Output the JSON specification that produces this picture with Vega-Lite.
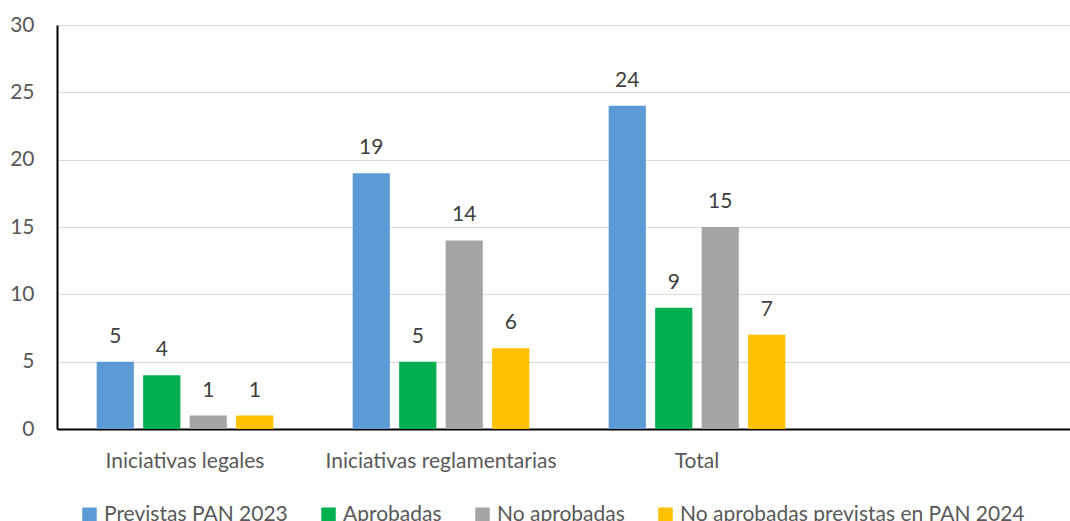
{
  "$schema": "https://vega.github.io/schema/vega-lite/v6.json",
  "autosize": {"type": "none"},
  "width": 1013,
  "height": 404,
  "padding": {"left": 57, "top": 25, "right": 0, "bottom": 92},
  "background": "white",
  "config": {
    "font": "Lato",
    "view": {"stroke": null}
  },
  "data": {
    "values": [
      {"categoria": "Iniciativas legales", "serie": "Previstas PAN 2023", "valor": 5},
      {"categoria": "Iniciativas legales", "serie": "Aprobadas", "valor": 4},
      {"categoria": "Iniciativas legales", "serie": "No aprobadas", "valor": 1},
      {"categoria": "Iniciativas legales", "serie": "No aprobadas previstas en PAN 2024", "valor": 1},
      {"categoria": "Iniciativas reglamentarias", "serie": "Previstas PAN 2023", "valor": 19},
      {"categoria": "Iniciativas reglamentarias", "serie": "Aprobadas", "valor": 5},
      {"categoria": "Iniciativas reglamentarias", "serie": "No aprobadas", "valor": 14},
      {"categoria": "Iniciativas reglamentarias", "serie": "No aprobadas previstas en PAN 2024", "valor": 6},
      {"categoria": "Total", "serie": "Previstas PAN 2023", "valor": 24},
      {"categoria": "Total", "serie": "Aprobadas", "valor": 9},
      {"categoria": "Total", "serie": "No aprobadas", "valor": 15},
      {"categoria": "Total", "serie": "No aprobadas previstas en PAN 2024", "valor": 7}
    ]
  },
  "encoding": {
    "x": {
      "field": "categoria",
      "type": "nominal",
      "scale": {
        "domain": ["Iniciativas legales", "Iniciativas reglamentarias", "Total", " "],
        "range": [0, 1024],
        "paddingInner": 0.31,
        "paddingOuter": 0.155
      },
      "axis": {
        "title": null,
        "labelAngle": 0,
        "labelFontSize": 21,
        "labelColor": "#595959",
        "labelPadding": 21,
        "labelLimit": 400,
        "ticks": false,
        "domainColor": "#000000",
        "domainWidth": 2,
        "grid": false
      }
    },
    "xOffset": {
      "field": "serie",
      "type": "nominal",
      "scale": {
        "domain": ["Previstas PAN 2023", "Aprobadas", "No aprobadas", "No aprobadas previstas en PAN 2024"],
        "paddingInner": 0.2,
        "paddingOuter": 0
      }
    },
    "y": {
      "field": "valor",
      "type": "quantitative",
      "scale": {"domain": [0, 30], "nice": false},
      "axis": {
        "title": null,
        "values": [0, 5, 10, 15, 20, 25, 30],
        "labelFontSize": 21,
        "labelColor": "#595959",
        "labelPadding": 23,
        "ticks": false,
        "domainColor": "#000000",
        "domainWidth": 2,
        "gridColor": "#D9D9D9",
        "gridWidth": 1
      }
    }
  },
  "layer": [
    {
      "mark": {"type": "bar"},
      "encoding": {
        "color": {
          "field": "serie",
          "type": "nominal",
          "scale": {
            "domain": ["Previstas PAN 2023", "Aprobadas", "No aprobadas", "No aprobadas previstas en PAN 2024"],
            "range": ["#5B9BD5", "#00B050", "#A5A5A5", "#FFC000"]
          },
          "legend": {
            "title": null,
            "orient": "none",
            "direction": "horizontal",
            "legendX": 22,
            "legendY": 479,
            "symbolType": "square",
            "symbolSize": 210,
            "symbolStrokeWidth": 0,
            "labelFontSize": 21,
            "labelColor": "#595959",
            "labelOffset": 4,
            "columnPadding": 30,
            "labelLimit": 500
          }
        }
      }
    },
    {
      "mark": {"type": "text", "baseline": "alphabetic", "dy": -19, "fontSize": 21, "color": "#404040"},
      "encoding": {
        "text": {"field": "valor", "type": "quantitative"}
      }
    }
  ]
}
